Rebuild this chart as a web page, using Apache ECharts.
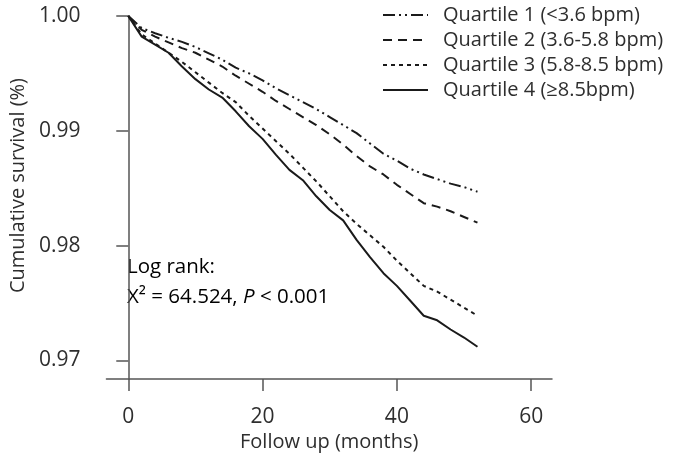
<!DOCTYPE html>
<html>
<head>
<meta charset="utf-8">
<script src="https://cdn.jsdelivr.net/npm/echarts@6/dist/echarts.min.js"></script>
<style>
  html, body { margin: 0; padding: 0; background: #fff; }
  #chart { width: 675px; height: 457px; }
</style>
</head>
<body>
<div id="chart"></div>
<script>
// follow-up time (months)
var months = [0, 2, 4, 6, 8, 10, 12, 14, 16, 18, 20, 22, 24, 26, 28, 30, 32, 34, 36, 38, 40, 42, 44, 46, 48, 50, 52];

// cumulative survival per quartile
var q1 = [1.0, 0.99895, 0.9985, 0.9981, 0.99775, 0.9973, 0.99675, 0.9962, 0.9955, 0.9950, 0.9944, 0.9937, 0.9931, 0.9925, 0.9919, 0.9912, 0.9905, 0.9898, 0.9889, 0.9880, 0.9874, 0.9867, 0.9862, 0.9858, 0.9854, 0.9851, 0.9847];
var q2 = [1.0, 0.9988, 0.9982, 0.9977, 0.9972, 0.9968, 0.9962, 0.9956, 0.9948, 0.9941, 0.9934, 0.9926, 0.9919, 0.9912, 0.9905, 0.9897, 0.9888, 0.9878, 0.9869, 0.9862, 0.9853, 0.9845, 0.9837, 0.9834, 0.9830, 0.9825, 0.9820];
var q3 = [1.0, 0.9984, 0.9976, 0.9968, 0.9960, 0.9951, 0.9942, 0.9933, 0.9925, 0.9913, 0.9902, 0.9891, 0.9880, 0.9868, 0.9856, 0.9843, 0.9830, 0.9819, 0.9809, 0.9799, 0.9787, 0.9776, 0.9765, 0.9760, 0.9753, 0.9746, 0.9739];
var q4 = [1.0, 0.9982, 0.9975, 0.9968, 0.9956, 0.9945, 0.9936, 0.9929, 0.9917, 0.9904, 0.9893, 0.9879, 0.9866, 0.9857, 0.9843, 0.9831, 0.9822, 0.9805, 0.9790, 0.9776, 0.9765, 0.9752, 0.9739, 0.9735, 0.9727, 0.9720, 0.9712];

var seriesNames = ['Quartile 1 (<3.6 bpm)', 'Quartile 2 (3.6-5.8 bpm)', 'Quartile 3 (5.8-8.5 bpm)', 'Quartile 4 (\u22658.5bpm)'];
var xTicks = [0, 20, 40, 60];
var yTicks = [0.97, 0.98, 0.99, 1.00];

var font = 'Open Sans';
var textColor = '#2e2e2e';
var lineColor = '#1a1a1a';
var axisColor = '#555';

function pairs(vals) {
    return months.map(function (t, i) { return [t, vals[i]]; });
}

var dashes = [[12, 4, 2, 4, 2, 4], [9, 6], [4, 4], 'solid'];
var allValues = [q1, q2, q3, q4];

var chart = echarts.init(document.getElementById('chart'));
chart.setOption({
    animation: false,
    grid: { left: 103, right: 123, top: 16, bottom: 72, containLabel: false },
    legend: {
        orient: 'vertical',
        left: 382,
        top: 5,
        padding: 0,
        itemWidth: 45,
        itemHeight: 20,
        itemGap: 5,
        data: seriesNames,
        itemStyle: { opacity: 0, borderWidth: 0 },
        textStyle: { fontFamily: font, fontSize: 20, color: textColor, padding: [0, 0, 0, 10] }
    },
    xAxis: {
        type: 'value',
        min: -3.25,
        max: 63.1,
        name: 'Follow up (months)',
        nameLocation: 'middle',
        nameGap: 49,
        nameTextStyle: { fontFamily: font, fontSize: 20, color: textColor },
        axisLine: { show: true, lineStyle: { color: axisColor, width: 1.5 } },
        axisTick: { show: true, length: 12, customValues: xTicks, lineStyle: { color: axisColor, width: 1.5 } },
        axisLabel: { customValues: xTicks, margin: 27, fontFamily: font, fontSize: 21, color: textColor },
        splitLine: { show: false }
    },
    yAxis: {
        type: 'value',
        min: 0.96838,
        max: 1.0,
        name: 'Cumulative survival (%)',
        nameLocation: 'middle',
        nameGap: 77,
        nameTextStyle: { fontFamily: font, fontSize: 20, color: textColor, padding: [0, 0, 0, 24] },
        axisLine: { show: true, lineStyle: { color: axisColor, width: 1.5 } },
        axisTick: { show: true, length: 12, customValues: yTicks, lineStyle: { color: axisColor, width: 1.5 } },
        axisLabel: {
            customValues: yTicks,
            margin: 26,
            fontFamily: font,
            fontSize: 21,
            color: textColor,
            formatter: function (v) { return v.toFixed(2); }
        },
        splitLine: { show: false }
    },
    graphic: [{
        type: 'text',
        left: 127,
        top: 257,
        style: {
            text: '{a|Log rank:}\n{a|\u03A7\u00B2 = 64.524, }{i|P}{a| < 0.001}',
            rich: {
                a: { fontFamily: font, fontSize: 20.5, color: textColor, lineHeight: 30 },
                i: { fontFamily: font, fontSize: 20.5, color: textColor, fontStyle: 'italic', lineHeight: 30 }
            }
        }
    }],
    series: allValues.map(function (vals, k) {
        return {
            name: seriesNames[k],
            type: 'line',
            data: pairs(vals),
            showSymbol: false,
            symbol: 'none',
            lineStyle: { color: lineColor, width: 2, type: dashes[k] },
            itemStyle: { color: lineColor }
        };
    })
});
</script>
</body>
</html>
